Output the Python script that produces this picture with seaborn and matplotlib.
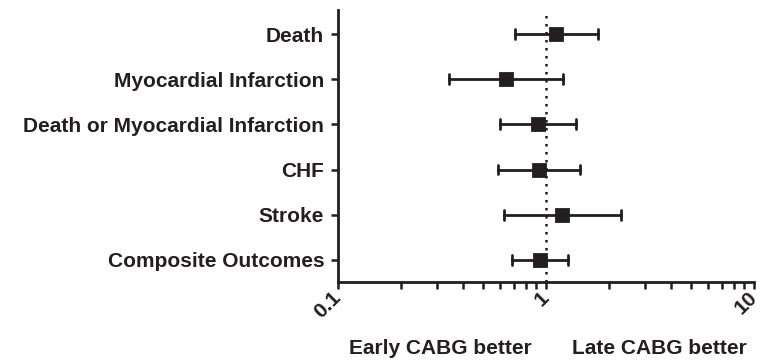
import numpy as np
import pandas as pd
import matplotlib
matplotlib.use("Agg")
import matplotlib.pyplot as plt
import seaborn as sns
from matplotlib.ticker import LogLocator, NullFormatter, FixedLocator, FixedFormatter

categories = ["Death", "Myocardial Infarction", "Death or Myocardial Infarction",
              "CHF", "Stroke", "Composite Outcomes"]
estimate = [1.12, 0.64, 0.92, 0.93, 1.20, 0.94]
lower = [0.71, 0.34, 0.60, 0.59, 0.63, 0.69]
upper = [1.78, 1.21, 1.40, 1.46, 2.29, 1.27]
xtick_values = [0.1, 1, 10]
xtick_labels = ["0.1", "1", "10"]

rows = []
for c, lo, e, hi in zip(categories, lower, estimate, upper):
    for v in (lo, e, hi):
        rows.append({"outcome": c, "ratio": v})
df = pd.DataFrame(rows)

INK = "#231f20"

sns.set_theme(style="ticks")
plt.rcParams["font.family"] = ["Liberation Sans", "DejaVu Sans"]
plt.rcParams["font.weight"] = "bold"

fig = plt.figure(figsize=(7.62, 3.61), dpi=100)
ax = fig.add_axes([0.4436, 0.219, 0.9895 - 0.4436, 0.972 - 0.219])
ax.set_xscale("log")

sns.pointplot(data=df, x="ratio", y="outcome", order=categories, orient="h",
              estimator="median", errorbar=lambda x: (np.min(x), np.max(x)),
              linestyle="none", marker="s", markersize=8, color=INK,
              capsize=0.22, err_kws={"linewidth": 2.0}, ax=ax)

ax.axvline(1, color=INK, linestyle=(0, (1, 2.2)), linewidth=1.8, zorder=0)

ax.set_xlim(0.1, 10)
ax.set_ylim(5.49, -0.53)
ax.xaxis.set_major_locator(FixedLocator(xtick_values))
ax.xaxis.set_major_formatter(FixedFormatter(xtick_labels))
ax.xaxis.set_minor_locator(LogLocator(base=10, subs=np.arange(2, 10)))
ax.xaxis.set_minor_formatter(NullFormatter())
for lab in ax.get_xticklabels():
    lab.set_rotation(45)
    lab.set_ha("right")
    lab.set_va("center")
    lab.set_rotation_mode("anchor")
    lab.set_fontsize(15)
    lab.set_fontweight("bold")
    lab.set_color(INK)
for lab in ax.get_yticklabels():
    lab.set_fontsize(15)
    lab.set_fontweight("bold")
    lab.set_color(INK)

ax.tick_params(axis="x", which="major", length=5, width=1.8, pad=4, color=INK)
ax.tick_params(axis="x", which="minor", length=5, width=1.8, color=INK)
ax.tick_params(axis="y", length=5, width=1.8, pad=5, color=INK)
ax.set_xlabel("")
ax.set_ylabel("")
for s in ("top", "right"):
    ax.spines[s].set_visible(False)
for s in ("left", "bottom"):
    ax.spines[s].set_linewidth(2.0)
    ax.spines[s].set_color(INK)

fig.text(440 / 762, 1 - 348 / 361, "Early CABG better", ha="center", va="center",
         fontsize=15, fontweight="bold", color=INK)
fig.text(659 / 762, 1 - 348 / 361, "Late CABG better", ha="center", va="center",
         fontsize=15, fontweight="bold", color=INK)

fig.savefig("out.png", dpi=100)
